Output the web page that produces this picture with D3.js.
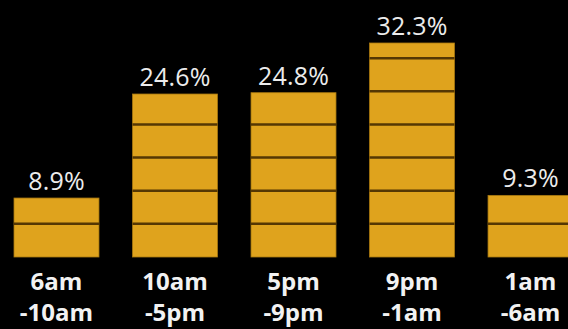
<!DOCTYPE html>
<html><head><meta charset="utf-8">
<script src="https://cdn.jsdelivr.net/npm/d3@7"></script>
<style>html,body{margin:0;padding:0;background:#000;overflow:hidden}</style>
</head><body>
<svg id="c" width="568" height="329"></svg>
<script>
const categoriesLine1 = ["6am", "10am", "5pm", "9pm", "1am"];
const categoriesLine2 = ["-10am", "-5pm", "-9pm", "-1am", "-6am"];
const values = [8.9, 24.6, 24.8, 32.3, 9.3];
const valueLabels = ["8.9%", "24.6%", "24.8%", "32.3%", "9.3%"];
const segmentStep = 5;

const svg = d3.select("#c");
const W = 568, H = 329;
svg.append("rect").attr("width", W).attr("height", H).attr("fill", "#000");

const x = d3.scaleBand().domain(d3.range(values.length)).range([14, 573]).paddingInner(0.283).paddingOuter(0);
const y = d3.scaleLinear().domain([0, 32.3]).range([257, 43]);

const g = svg.append("g");
values.forEach((v, i) => {
  const bx = x(i), bw = x.bandwidth();
  g.append("rect").attr("x", bx).attr("y", y(v)).attr("width", bw).attr("height", y(0) - y(v))
    .attr("fill", "#dfa31d").attr("stroke", "#a87810").attr("stroke-width", 0.8);
  for (let s = segmentStep; s < v - 1; s += segmentStep) {
    g.append("line").attr("x1", bx).attr("x2", bx + bw).attr("y1", y(s)).attr("y2", y(s))
      .attr("stroke", "#553703").attr("stroke-width", 2.5);
  }
  g.append("text").attr("x", bx + bw / 2).attr("y", y(v) - 8).attr("text-anchor", "middle")
    .attr("fill", "#ececec").attr("font-family", "Open Sans").attr("font-weight", 500).attr("font-size", 25)
    .attr("letter-spacing", 0.2)
    .text(valueLabels[i]);
  g.append("text").attr("x", bx + bw / 2).attr("y", 290).attr("text-anchor", "middle")
    .attr("fill", "#f2f2f2").attr("font-family", "Open Sans").attr("font-weight", "bold").attr("font-size", 24)
    .text(categoriesLine1[i]);
  g.append("text").attr("x", bx + bw / 2).attr("y", 321).attr("text-anchor", "middle")
    .attr("fill", "#f2f2f2").attr("font-family", "Open Sans").attr("font-weight", "bold").attr("font-size", 24)
    .text(categoriesLine2[i]);
});
</script>
</body></html>
